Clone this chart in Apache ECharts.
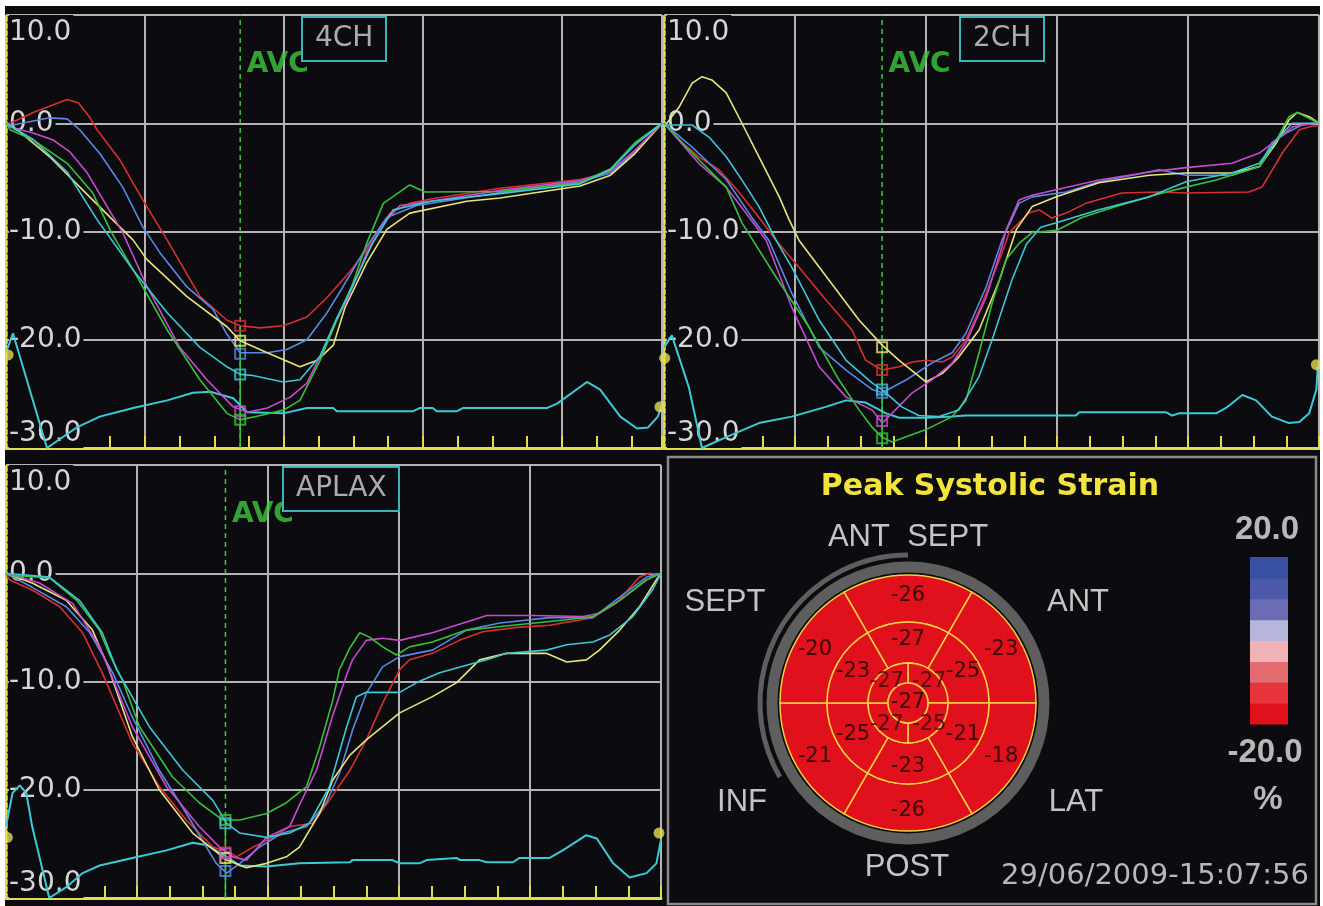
<!DOCTYPE html>
<html>
<head>
<meta charset="utf-8">
<style>
  html, body { margin: 0; padding: 0; background: #fff; }
  #chart { width: 1323px; height: 906px; }
</style>
<script src="https://cdn.jsdelivr.net/npm/echarts@6/dist/echarts.min.js"></script>
</head>
<body>
<div id="chart"></div>
<script>
// time in ms from start of cycle, strain in %
// 4CH
const red4ch = [[0,0],[6,0],[39,1.0],[88,2.2],[104,1.9],[121,0.5],[131,-0.6],[164,-3.4],[197,-7.1],[232,-10.8],[279,-16.0],[318,-18.2],[337,-18.7],[366,-18.9],[399,-18.7],[433,-17.9],[462,-16.1],[495,-13.7],[519,-11.7],[538,-9.6],[553,-8.3],[581,-7.4],[611,-7.0],[711,-6.0],[826,-5.2],[870,-4.6],[905,-2.8],[944,0]];
const blue4ch = [[0,0],[6,-0.2],[63,0.5],[88,0.4],[106,-0.6],[135,-2.8],[168,-5.9],[197,-9.6],[222,-12.0],[260,-15.1],[298,-17.2],[318,-19.5],[337,-21.2],[376,-21.2],[404,-20.9],[433,-20.0],[462,-17.5],[485,-15.1],[519,-11.4],[548,-8.7],[591,-7.6],[711,-6.4],[826,-5.4],[870,-4.6],[905,-2.6],[944,0]];
const yellow4ch = [[0,0],[20,-0.8],[63,-3.1],[111,-6.2],[150,-8.7],[183,-10.8],[203,-12.6],[260,-16.0],[318,-18.8],[337,-20.1],[376,-21.2],[423,-22.5],[448,-21.9],[471,-20.5],[488,-17.0],[519,-12.9],[548,-9.8],[581,-8.3],[663,-7.2],[711,-6.9],[826,-5.8],[870,-4.8],[905,-2.8],[944,0]];
const magenta4ch = [[0,0],[6,-0.35],[39,-0.9],[68,-1.55],[92,-2.65],[117,-4.6],[140,-7.1],[168,-10.1],[203,-15.1],[250,-20.7],[289,-23.7],[327,-26.2],[347,-26.7],[376,-26.3],[409,-25.3],[433,-24.0],[456,-21.0],[471,-18.8],[491,-16.3],[519,-12.0],[548,-8.9],[567,-7.6],[611,-7.2],[711,-6.2],[826,-5.3],[870,-4.4],[905,-2.5],[944,0]];
const green4ch = [[0,0],[6,-0.6],[39,-1.55],[88,-3.7],[125,-6.45],[150,-9.9],[183,-13.55],[232,-19.1],[279,-23.7],[318,-26.8],[337,-27.4],[366,-27.0],[399,-26.5],[423,-25.6],[452,-21.9],[476,-18.2],[499,-14.8],[519,-11.1],[543,-7.4],[581,-5.7],[603,-6.35],[711,-6.3],[826,-5.5],[870,-4.2],[905,-1.8],[944,0]];
const cyan4ch = [[0,0],[39,-1.5],[88,-4.5],[131,-8.9],[183,-13.55],[232,-17.5],[279,-20.7],[318,-22.5],[337,-23.2],[355,-23.3],[399,-23.9],[423,-23.7],[452,-21.5],[476,-18.0],[505,-14.2],[528,-11.0],[557,-8.0],[611,-7.2],[711,-6.5],[826,-5.6],[870,-4.3],[905,-2.0],[944,0]];
const ecg4ch = [[0,-21.2],[10,-19.4],[59,-30],[102,-28.1],[135,-27.1],[183,-26.3],[232,-25.6],[269,-24.9],[294,-24.8],[327,-25.4],[347,-26.7],[399,-26.8],[433,-26.3],[471,-26.3],[476,-26.6],[586,-26.6],[596,-26.3],[614,-26.3],[620,-26.6],[649,-26.6],[658,-26.3],[779,-26.3],[793,-25.9],[836,-23.9],[855,-24.6],[884,-27.1],[908,-28.2],[924,-28.1],[938,-27.1],[944,-26]];
const marks4ch = [-18.7, -21.3, -20.1, -26.6, -27.4, -23.2];
const dots4ch = [[3,-21.4],[941,-26.2]];

// 2CH
const red2ch = [[0,0],[23,-1.55],[53,-3.1],[84,-4.3],[115,-6.4],[145,-8.7],[171,-10.8],[206,-13.3],[247,-16.3],[287,-19.1],[308,-21.9],[333,-22.8],[359,-22.5],[379,-22.05],[400,-21.9],[425,-22.05],[440,-21.6],[461,-20.0],[486,-16.6],[516,-12.0],[527,-10.1],[557,-8.3],[573,-8.0],[592,-8.75],[614,-8.3],[644,-7.4],[699,-6.45],[756,-6.35],[797,-6.45],[893,-6.35],[913,-5.9],[944,-2.75],[970,-0.6],[990,-0.25],[1000,-0.25]];
const blue2ch = [[0,0],[43,-2.2],[95,-5.2],[134,-8.7],[160,-10.8],[195,-15.7],[237,-20.7],[278,-22.8],[318,-24.6],[333,-24.9],[370,-23.7],[409,-22.15],[440,-21.2],[461,-19.4],[492,-15.1],[516,-10.8],[542,-7.4],[562,-6.8],[614,-6.35],[664,-5.4],[715,-4.8],[756,-4.3],[797,-4.8],[867,-4.8],[909,-4.0],[928,-1.8],[950,-0.9],[974,-0.16],[1000,0]];
const yellow2ch = [[0,-0.35],[23,1.5],[43,3.7],[58,4.3],[73,4.0],[95,2.8],[119,0.0],[145,-3.1],[176,-6.8],[191,-8.9],[206,-10.8],[221,-12.0],[267,-15.7],[298,-18.2],[333,-20.5],[359,-21.9],[400,-23.9],[425,-23.1],[450,-21.6],[481,-19.1],[512,-14.5],[538,-9.8],[562,-7.7],[599,-6.8],[664,-5.5],[741,-4.8],[797,-4.6],[867,-4.6],[909,-4.0],[935,-1.8],[954,0.3],[967,1.0],[985,0.6],[1000,0]];
const magenta2ch = [[0,0],[53,-3.7],[95,-5.9],[125,-8.3],[156,-10.8],[195,-17.0],[237,-22.5],[278,-25.3],[318,-26.5],[333,-27.7],[348,-26.8],[379,-24.9],[409,-23.7],[440,-22.15],[461,-20.3],[492,-16.05],[516,-11.4],[522,-9.9],[542,-7.1],[562,-6.65],[664,-5.25],[741,-4.5],[797,-4.1],[867,-3.7],[909,-2.75],[935,-1.55],[959,-0.35],[990,0],[1000,0]];
const green2ch = [[0,0],[43,-2.75],[95,-5.9],[119,-9.2],[171,-14.2],[221,-18.8],[267,-23.7],[298,-26.5],[318,-28.1],[333,-29.0],[348,-29.45],[400,-28.3],[440,-27.1],[461,-25.6],[481,-21.2],[501,-16.6],[522,-12.6],[542,-11.1],[562,-10.1],[599,-9.9],[638,-8.7],[690,-7.7],[751,-6.6],[797,-5.9],[843,-5.25],[878,-4.6],[909,-4.0],[935,-1.55],[954,0.6],[967,1.0],[990,0.3],[1000,0]];
const cyan2ch = [[0,-0.16],[43,-0.16],[69,-1.3],[95,-3.1],[119,-5.25],[145,-7.7],[171,-10.8],[195,-13.3],[237,-18.2],[278,-21.9],[318,-24.0],[333,-24.6],[363,-26.2],[389,-27.0],[420,-27.1],[450,-26.5],[481,-23.4],[501,-20.0],[531,-14.5],[553,-11.2],[575,-9.6],[599,-9.2],[664,-8.0],[741,-6.8],[797,-5.4],[867,-4.6],[909,-3.7],[935,-1.55],[959,0],[1000,0]];
const ecg2ch = [[0,-20.7],[12,-19.6],[38,-24.4],[58,-30],[95,-29],[145,-27.7],[195,-27.1],[247,-26.2],[278,-25.6],[308,-25.8],[339,-26.8],[359,-27.2],[400,-27.2],[440,-27.1],[461,-27.0],[629,-27.0],[634,-26.7],[767,-26.7],[776,-27.0],[786,-26.8],[843,-26.8],[858,-26.3],[883,-25.1],[904,-25.6],[928,-27.1],[954,-27.7],[970,-27.6],[985,-26.8],[996,-24.6],[998,-22.5]];
const marks2ch = [-22.8, -24.9, -20.7, -27.5, -29.1, -24.6];
const dots2ch = [[1,-21.7],[996,-22.3]];

// APLAX
const red3ch = [[0,0],[5,-0.6],[40,-1.55],[82,-3.1],[117,-5.5],[147,-9.2],[193,-15.7],[234,-19.7],[275,-22.8],[316,-25.3],[341,-25.8],[352,-26.2],[377,-25.3],[407,-24.4],[433,-23.4],[468,-23.1],[483,-21.9],[499,-20.5],[525,-18.2],[550,-15.4],[575,-12.0],[601,-8.9],[616,-8.0],[651,-7.4],[692,-6.2],[728,-5.4],[780,-5.0],[830,-4.8],[896,-4.1],[932,-2.75],[967,-0.35],[983,0],[1000,-0.16]];
const blue3ch = [[0,0],[40,-1.3],[92,-3.1],[128,-5.5],[163,-9.2],[193,-13.3],[234,-18.2],[275,-22.15],[306,-25.3],[321,-26.8],[337,-27.7],[357,-26.8],[387,-25.3],[422,-24.0],[459,-23.4],[489,-21.2],[509,-18.5],[529,-14.5],[550,-11.1],[575,-8.65],[601,-7.7],[651,-7.1],[703,-5.25],[754,-4.6],[830,-4.1],[896,-4.1],[937,-2.2],[978,-0.35],[1000,0]];
const yellow3ch = [[0,0],[40,-0.9],[92,-2.5],[132,-5.25],[155,-8.5],[193,-15.1],[234,-20.0],[285,-24.0],[337,-26.5],[367,-27.2],[398,-26.8],[428,-26.2],[448,-25.3],[479,-22.15],[499,-19.1],[525,-16.8],[550,-15.4],[601,-12.9],[651,-11.4],[688,-10.1],[723,-8.0],[764,-7.4],[825,-7.4],[856,-8.2],[886,-8.0],[906,-7.1],[937,-5.25],[967,-3.1],[993,-0.6],[1000,0]];
const magenta3ch = [[0,0],[51,-0.9],[102,-2.8],[143,-6.8],[193,-14.2],[245,-19.7],[295,-23.4],[326,-25.3],[346,-26.2],[367,-26.5],[398,-24.4],[433,-23.4],[448,-21.4],[474,-18.2],[499,-13.1],[520,-9.4],[529,-8.0],[550,-6.2],[575,-6.0],[601,-6.2],[651,-5.5],[703,-4.5],[734,-3.9],[804,-3.9],[881,-4.0],[906,-3.7],[937,-2.5],[978,-0.6],[1000,0]];
const green3ch = [[0,0],[5,-0.2],[66,-0.4],[108,-2.5],[143,-5.3],[158,-7.5],[178,-9.9],[204,-14.2],[254,-18.8],[295,-21.2],[331,-22.8],[357,-22.8],[398,-22.2],[428,-21.2],[459,-19.7],[479,-16.0],[499,-11.7],[509,-8.9],[525,-6.9],[540,-5.5],[555,-5.9],[575,-6.8],[596,-7.55],[616,-6.8],[651,-6.35],[703,-5.25],[774,-4.8],[856,-4.3],[896,-4.0],[937,-2.5],[978,-0.6],[1000,0]];
const cyan3ch = [[0,0],[66,-0.35],[112,-2.5],[147,-5.5],[169,-8.9],[219,-14.2],[270,-18.2],[316,-21.0],[337,-23.1],[357,-24.0],[398,-24.4],[433,-24.0],[463,-23.1],[494,-19.7],[520,-14.2],[535,-11.4],[550,-11.0],[601,-11.0],[627,-10.1],[662,-9.2],[703,-8.5],[734,-8.0],[764,-7.4],[825,-7.1],[856,-6.6],[896,-6.35],[922,-5.7],[957,-4.0],[987,-1.55],[1000,0]];
const ecg3ch = [[0,-23.4],[10,-20.3],[21,-19.6],[31,-20.3],[40,-23.4],[66,-30],[92,-29.0],[117,-27.7],[143,-27.0],[193,-26.3],[245,-25.6],[285,-24.9],[306,-25.1],[337,-26.2],[357,-27.0],[398,-27.1],[448,-26.8],[525,-26.7],[529,-26.5],[590,-26.5],[601,-26.8],[631,-26.8],[642,-26.5],[688,-26.3],[693,-26.5],[723,-26.5],[734,-26.7],[774,-26.7],[784,-26.3],[830,-26.3],[850,-25.6],[886,-24.2],[902,-24.5],[927,-26.8],[952,-28.1],[978,-27.7],[993,-26.8],[1000,-24.6]];
const marks3ch = [-25.8, -27.5, -26.3, -25.9, -22.8, -23.1];
const dots3ch = [[2,-24.4],[997,-24.0]];

const panelNames = ['4CH', '2CH', 'APLAX'];
const avcTimes = [337, 333, 335];
const cycleLengths = [944, 1000, 1000];
const strainTicks = [-30, 10, 10]; // min, max, step

// bull's eye: basal and mid start at ANT SEPT going clockwise, apical starts upper right
const basalStrain = [-26, -23, -18, -26, -21, -20];
const midStrain = [-27, -25, -21, -23, -25, -23];
const apicalStrain = [-27, -25, -27, -27];
const apicalAngles = [45, 315, 225, 135];
const apexStrain = [-27];
const wallNames = ['ANT  SEPT', 'ANT', 'LAT', 'POST', 'INF', 'SEPT'];
const scaleSteps = [-20, -15, -10, -5, 0, 5, 10, 15, 20];
const scaleColors = ['#e0101c', '#e6343a', '#e46c70', '#f0b2b6', '#b6b6dc', '#6c6cb4', '#4c58a8', '#3850a4'];

const BG = '#0b0b10';
const FONT = 'DejaVu Sans';
const AXIS_YELLOW = '#e2dc50';
const GRID_GREY = '#b4b4b4';
const AVC_GREEN = '#3cc83c';
const curveColors = ['#d83030', '#5a88e6', '#e8e47a', '#c84ad0', '#38c038', '#3cc8d4'];

const grids = [
  { left: 6, top: 15, width: 656, height: 433 },
  { left: 664, top: 15, width: 655, height: 433 },
  { left: 6, top: 465, width: 655, height: 433 }
];
const boxPos = [[302, 17], [960, 17], [283, 467]];
const eyeCenter = [908, 703];

function strainColor(v) {
  let k = Math.floor((v - scaleSteps[0]) / 5);
  k = Math.max(0, Math.min(scaleColors.length - 1, k));
  return scaleColors[k];
}

function panelSeries(i, curves, ecg, marks, dots) {
  const avc = avcTimes[i];
  const base = { xAxisIndex: i * 2, yAxisIndex: i, silent: true, emphasis: { disabled: true } };
  const out = [];
  out.push(Object.assign({}, base, {
    type: 'line', data: [[avc, -30], [avc, 10]], symbol: 'none', z: 1,
    lineStyle: { color: AVC_GREEN, width: 1.5, type: [5, 4] }
  }));
  out.push(Object.assign({}, base, {
    type: 'line', data: [[avc, -30], [avc, Math.max(...marks)]], symbol: 'none', z: 1,
    lineStyle: { color: AVC_GREEN, width: 1.5 }
  }));
  out.push(Object.assign({}, base, {
    type: 'line', data: ecg, symbol: 'none', lineStyle: { color: '#3ccbd6', width: 2 }
  }));
  curves.forEach((c, k) => {
    out.push(Object.assign({}, base, {
      type: 'line', data: c, symbol: 'none', lineStyle: { color: curveColors[k], width: 1.6 }
    }));
  });
  out.push(Object.assign({}, base, {
    type: 'scatter', symbol: 'rect', symbolSize: 10, z: 4,
    itemStyle: { color: 'rgba(0,0,0,0)', borderWidth: 2 },
    data: marks.map((v, k) => ({ value: [avc, v], itemStyle: { borderColor: curveColors[k] } }))
  }));
  out.push(Object.assign({}, base, {
    type: 'scatter', symbol: 'circle', symbolSize: 11, z: 4,
    itemStyle: { color: AXIS_YELLOW }, data: dots
  }));
  out.push(Object.assign({}, base, {
    type: 'scatter', symbolSize: 1, z: 3, itemStyle: { color: 'rgba(0,0,0,0)' },
    data: [[avc, 5.4]],
    label: { show: true, position: 'right', distance: 6, formatter: 'AVC', color: AVC_GREEN,
      fontSize: 28, fontWeight: 'bold', fontFamily: FONT }
  }));
  return out;
}

const segLabel = { color: '#3a0808', fontSize: 21, fontFamily: FONT };

function ringSeries(values, radius, startAngle, labelPos) {
  return {
    type: 'pie', center: eyeCenter, radius, startAngle, clockwise: true, z: 8,
    silent: true, emphasis: { disabled: true }, avoidLabelOverlap: false,
    itemStyle: { borderColor: '#f2d23c', borderWidth: 1.5 },
    label: Object.assign({ show: !!labelPos, position: labelPos || 'inside',
      formatter: p => String(values[p.dataIndex]) }, segLabel),
    labelLine: { show: false },
    data: values.map(v => ({ value: 1, itemStyle: { color: strainColor(v) } }))
  };
}

const xAxes = [], yAxes = [];
grids.forEach((g, i) => {
  xAxes.push({
    gridIndex: i, type: 'value', min: 0, max: cycleLengths[i], interval: 50,
    axisLine: { show: true, onZero: false, lineStyle: { color: AXIS_YELLOW, width: 3 } },
    axisTick: { show: true, inside: true, length: 12, lineStyle: { color: AXIS_YELLOW, width: 2 } },
    axisLabel: { show: false }, splitLine: { show: false }
  });
  xAxes.push({
    gridIndex: i, type: 'value', min: 0, max: cycleLengths[i], interval: 200,
    axisLine: { show: false }, axisTick: { show: false }, axisLabel: { show: false },
    splitLine: { show: true, lineStyle: { color: GRID_GREY, width: 2 } }
  });
  yAxes.push({
    gridIndex: i, type: 'value', min: strainTicks[0], max: strainTicks[1], interval: strainTicks[2],
    axisLine: { show: true, lineStyle: { color: AXIS_YELLOW, width: 2.5, type: [4, 3] } },
    axisTick: { show: false },
    splitLine: { show: true, lineStyle: { color: GRID_GREY, width: 2 } },
    axisLabel: {
      inside: true, margin: 3, formatter: v => v.toFixed(1), color: '#d6d6d6',
      fontSize: 28, fontFamily: FONT, backgroundColor: BG, padding: [4, 2, 0, 0],
      verticalAlignMaxLabel: 'top', verticalAlignMinLabel: 'bottom'
    }
  });
});

const series = [].concat(
  panelSeries(0, [red4ch, blue4ch, yellow4ch, magenta4ch, green4ch, cyan4ch], ecg4ch, marks4ch, dots4ch),
  panelSeries(1, [red2ch, blue2ch, yellow2ch, magenta2ch, green2ch, cyan2ch], ecg2ch, marks2ch, dots2ch),
  panelSeries(2, [red3ch, blue3ch, yellow3ch, magenta3ch, green3ch, cyan3ch], ecg3ch, marks3ch, dots3ch),
  [
    ringSeries(basalStrain, [81, 128], 120, 'inside'),
    ringSeries(midStrain, [40, 81], 120, 'inside'),
    ringSeries(apicalStrain, [20, 40], 90, null),
    ringSeries(apexStrain, [0, 20], 90, 'center'),
    {
      // apical ring is too thin for pie labels, place them on the polar scale instead
      type: 'scatter', coordinateSystem: 'polar', z: 10, silent: true,
      symbolSize: 1, itemStyle: { color: 'rgba(0,0,0,0)' },
      data: apicalStrain.map((v, k) => [30, apicalAngles[k]]),
      label: Object.assign({ show: true, position: 'inside',
        formatter: p => String(apicalStrain[p.dataIndex]) }, segLabel)
    }
  ]
);

function txt(x, y, text, font, fill) {
  return { type: 'text', x, y, z: 20, silent: true,
    style: { text, font, fill, align: 'center', verticalAlign: 'middle',
      textAlign: 'center', textVerticalAlign: 'middle' } };
}

const wallPos = [[908, 537], [1078, 602], [1076, 802], [907, 867], [742, 802], [725, 602]];
const graphics = [
  { type: 'rect', z: 50, silent: true, shape: { x: 0, y: 0, width: 1323, height: 6 }, style: { fill: '#fff' } },
  { type: 'rect', z: 50, silent: true, shape: { x: 0, y: 0, width: 5, height: 906 }, style: { fill: '#fff' } },
  { type: 'rect', z: 50, silent: true, shape: { x: 1320, y: 0, width: 3, height: 906 }, style: { fill: '#fff' } },
  { type: 'rect', z: 5, silent: true, shape: { x: 668, y: 457, width: 648, height: 447 },
    style: { fill: 'none', stroke: '#8a8a8a', lineWidth: 2.5 } },
  { type: 'circle', z: 6, silent: true, shape: { cx: 908, cy: 703, r: 136 },
    style: { fill: 'none', stroke: '#5e5e5e', lineWidth: 11 } },
  { type: 'arc', z: 6, silent: true,
    shape: { cx: 908, cy: 703, r: 148, startAngle: 5 * Math.PI / 6, endAngle: 1.5 * Math.PI, clockwise: true },
    style: { fill: 'none', stroke: '#5e5e5e', lineWidth: 5 } },
  txt(990, 487, 'Peak Systolic Strain', 'bold 30px "DejaVu Sans"', '#f2e43c'),
  txt(1267, 530, scaleSteps[scaleSteps.length - 1].toFixed(1), 'bold 33px "Liberation Sans"', '#b8b8b8'),
  txt(1265, 753, scaleSteps[0].toFixed(1), 'bold 33px "Liberation Sans"', '#b8b8b8'),
  txt(1268, 800, '%', 'bold 33px "Liberation Sans"', '#b8b8b8'),
  txt(1155, 876, '29/06/2009-15:07:56', '29px "DejaVu Sans"', '#b8b8b8')
];
wallNames.forEach((n, k) => graphics.push(txt(wallPos[k][0], wallPos[k][1], n, '31px "Liberation Sans"', '#c4c4c4')));
scaleColors.forEach((c, k) => {
  const h = 167 / scaleColors.length;
  graphics.push({ type: 'rect', z: 10, silent: true,
    shape: { x: 1250, y: 724 - (k + 1) * h, width: 38, height: h + 0.5 }, style: { fill: c } });
});

const chart = echarts.init(document.getElementById('chart'));
chart.setOption({
  animation: false,
  backgroundColor: BG,
  title: panelNames.map((n, i) => ({
    text: n, left: boxPos[i][0], top: boxPos[i][1], padding: [8, 13],
    borderColor: '#3cb4bc', borderWidth: 2, backgroundColor: BG,
    textStyle: { color: '#ababab', fontSize: 28, fontWeight: 'normal', fontFamily: FONT }
  })),
  grid: grids,
  xAxis: xAxes,
  yAxis: yAxes,
  polar: { center: eyeCenter, radius: 128 },
  angleAxis: { type: 'value', min: 0, max: 360, startAngle: 0, clockwise: false, show: false },
  radiusAxis: { type: 'value', min: 0, max: 128, show: false },
  series,
  graphic: graphics
});
</script>
</body>
</html>
